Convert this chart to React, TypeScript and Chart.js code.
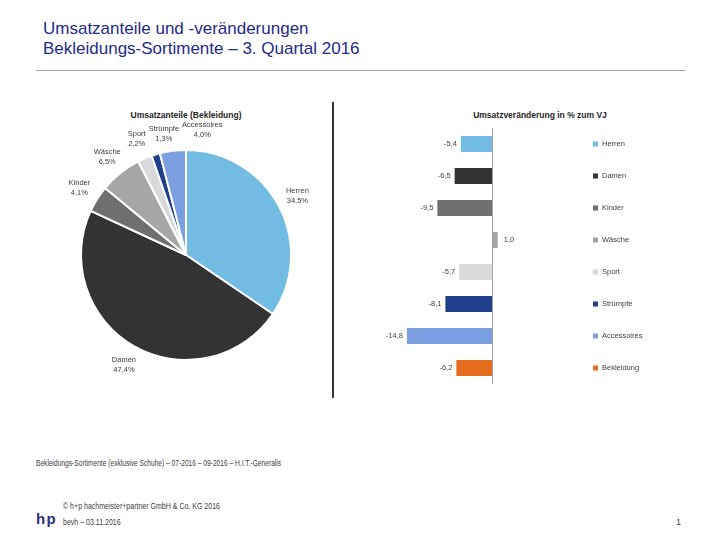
import React, { useEffect, useRef } from "react";
import { Chart, registerables } from "chart.js";

Chart.register(...registerables);

const categories = ["Herren", "Damen", "Kinder", "Wäsche", "Sport", "Strümpfe", "Accessoires"];
const shares = [34.5, 47.4, 4.1, 6.5, 2.2, 1.3, 4.0];
const changeCategories = ["Herren", "Damen", "Kinder", "Wäsche", "Sport", "Strümpfe", "Accessoires", "Bekleidung"];
const changes = [-5.4, -6.5, -9.5, 1.0, -5.7, -8.1, -14.8, -6.2];
const colors = ["#72BBE2", "#333333", "#6F6F6F", "#A6A6A6", "#D9D9D9", "#1F3F8A", "#7BA0E2", "#E46C1E"];

const FONT = '"Liberation Sans", Arial, sans-serif';
const TEXT = "#404040";
const NAVY = "#1F2A8C";

const fmt = (v: number) => v.toFixed(1).replace(".", ",");

const pieLabelPlugin = {
  id: "pieLabels",
  afterDatasetsDraw(chart: any) {
    const ctx = chart.ctx;
    const meta = chart.getDatasetMeta(0);
    ctx.save();
    ctx.font = `7.5px ${FONT}`;
    ctx.fillStyle = TEXT;
    ctx.textAlign = "center";
    ctx.textBaseline = "middle";
    const boxes: any[] = [];
    meta.data.forEach((arc: any, i: number) => {
      const p = arc.getProps(["x", "y", "startAngle", "endAngle", "outerRadius"], true);
      const mid = (p.startAngle + p.endAngle) / 2;
      const r = p.outerRadius * 1.2;
      const cx = p.x + Math.cos(mid) * r;
      const cy = p.y + Math.sin(mid) * r;
      const l1 = categories[i];
      const l2 = fmt(shares[i]) + "%";
      const w = Math.max(ctx.measureText(l1).width, ctx.measureText(l2).width);
      boxes.push({ cx, cy, w, h: 20, l1, l2 });
    });
    // simple overlap resolution (clockwise order, push to the right)
    for (let i = 1; i < boxes.length; i++) {
      const a = boxes[i - 1];
      const b = boxes[i];
      const vOverlap = Math.abs(a.cy - b.cy) < (a.h + b.h) / 2;
      const aRight = a.cx + a.w / 2;
      const bLeft = b.cx - b.w / 2;
      if (vOverlap && bLeft < aRight + 3 && b.cx >= a.cx - 5) {
        b.cx = aRight + 3 + b.w / 2;
      }
    }
    boxes.forEach((b) => {
      ctx.fillText(b.l1, b.cx, b.cy - 5);
      ctx.fillText(b.l2, b.cx, b.cy + 5);
    });
    ctx.restore();
  },
};

const barExtrasPlugin = {
  id: "barExtras",
  afterDatasetsDraw(chart: any) {
    const ctx = chart.ctx;
    const xs = chart.scales.x;
    const ys = chart.scales.y;
    const area = chart.chartArea;
    ctx.save();
    // zero line
    const x0 = Math.round(xs.getPixelForValue(0)) + 0.5;
    ctx.strokeStyle = "#A6A6A6";
    ctx.lineWidth = 1;
    ctx.beginPath();
    ctx.moveTo(x0, area.top);
    ctx.lineTo(x0, area.bottom);
    ctx.stroke();
    // value labels
    ctx.font = `7.5px ${FONT}`;
    ctx.fillStyle = TEXT;
    ctx.textBaseline = "middle";
    changes.forEach((v, i) => {
      const y = ys.getPixelForValue(i);
      const xe = xs.getPixelForValue(v);
      if (v < 0) {
        ctx.textAlign = "right";
        ctx.fillText(fmt(v), xe - 4, y);
      } else {
        ctx.textAlign = "left";
        ctx.fillText(fmt(v), xe + 6, y);
      }
    });
    // legend
    ctx.textAlign = "left";
    changeCategories.forEach((c, i) => {
      const y = ys.getPixelForValue(i);
      const lx = area.right + 78;
      ctx.fillStyle = colors[i];
      ctx.fillRect(lx, y - 2.5, 5, 5);
      ctx.fillStyle = TEXT;
      ctx.fillText(c, lx + 9, y);
    });
    ctx.restore();
  },
};

function PieChart() {
  const ref = useRef<HTMLCanvasElement>(null);
  useEffect(() => {
    const chart = new Chart(ref.current as HTMLCanvasElement, {
      type: "pie",
      data: {
        labels: categories,
        datasets: [
          {
            data: shares,
            backgroundColor: colors.slice(0, categories.length),
            borderColor: "#FFFFFF",
            borderWidth: 2,
          },
        ],
      },
      options: {
        responsive: false,
        animation: false,
        layout: { padding: { top: 34, bottom: 34, left: 24, right: 24 } },
        plugins: { legend: { display: false }, tooltip: { enabled: false } },
      },
      plugins: [pieLabelPlugin],
    });
    return () => chart.destroy();
  }, []);
  return (
    <canvas
      ref={ref}
      width={260}
      height={280}
      style={{ position: "absolute", left: 56, top: 115, width: 260, height: 280 }}
    />
  );
}

function BarChart() {
  const ref = useRef<HTMLCanvasElement>(null);
  useEffect(() => {
    const chart = new Chart(ref.current as HTMLCanvasElement, {
      type: "bar",
      data: {
        labels: changeCategories,
        datasets: [
          {
            data: changes,
            backgroundColor: colors,
            barPercentage: 0.5,
            categoryPercentage: 1,
          },
        ],
      },
      options: {
        indexAxis: "y",
        responsive: false,
        animation: false,
        layout: { padding: { top: 28, bottom: 16, left: 40, right: 165 } },
        scales: {
          x: { display: false, min: -16, max: 4 },
          y: { display: false },
        },
        plugins: { legend: { display: false }, tooltip: { enabled: false } },
      },
      plugins: [barExtrasPlugin],
    });
    return () => chart.destroy();
  }, []);
  return (
    <canvas
      ref={ref}
      width={320}
      height={300}
      style={{ position: "absolute", left: 360, top: 100, width: 320, height: 300 }}
    />
  );
}

export default function App() {
  const abs = (l: number, t: number, extra: any = {}) => ({
    position: "absolute" as const,
    left: l,
    top: t,
    whiteSpace: "nowrap" as const,
    ...extra,
  });
  const narrow = { transform: "scaleX(0.78)", transformOrigin: "0 50%" };
  return (
    <div
      style={{
        position: "absolute",
        left: 0,
        top: 0,
        width: 720,
        height: 540,
        background: "#FFFFFF",
        overflow: "hidden",
        fontFamily: FONT,
      }}
    >
      <div style={abs(43, 19, { fontSize: 17, lineHeight: "20px", color: NAVY })}>
        Umsatzanteile und -veränderungen
        <br />
        Bekleidungs-Sortimente – 3. Quartal 2016
      </div>
      <div style={abs(36, 70, { width: 649, height: 1, background: "#A0A0A0" })} />

      <div
        style={abs(86, 110, {
          width: 200,
          textAlign: "center",
          fontSize: 8.5,
          fontWeight: "bold",
          color: "#262626",
        })}
      >
        Umsatzanteile (Bekleidung)
      </div>
      <div
        style={abs(440, 110, {
          width: 200,
          textAlign: "center",
          fontSize: 8.5,
          fontWeight: "bold",
          color: "#262626",
        })}
      >
        Umsatzveränderung in % zum VJ
      </div>

      <PieChart />
      <BarChart />

      <div style={abs(332, 102, { width: 2, height: 296, background: "#333333" })} />

      <div style={abs(36, 458, { fontSize: 8.5, color: TEXT, ...narrow })}>
        Bekleidungs-Sortimente (exklusive Schuhe) – 07-2016 – 09-2016 – H.I.T.-Generalis
      </div>
      <div style={abs(63, 501, { fontSize: 9, color: TEXT, ...narrow })}>
        © h+p hachmeister+partner GmbH &amp; Co. KG 2016
      </div>
      <div style={abs(63, 517, { fontSize: 9, color: TEXT, ...narrow })}>
        bevh – 03.11.2016
      </div>
      <div style={abs(676, 517, { fontSize: 9, color: TEXT })}>1</div>
      <div
        style={abs(36, 510, {
          fontSize: 15,
          fontWeight: "bold",
          color: "#2B2F80",
          fontFamily: FONT,
        })}
      >
        h
        <span style={{ fontSize: 10, fontWeight: "normal", color: "#9090B0", margin: "0 -1px" }}>·</span>
        p
      </div>
    </div>
  );
}
